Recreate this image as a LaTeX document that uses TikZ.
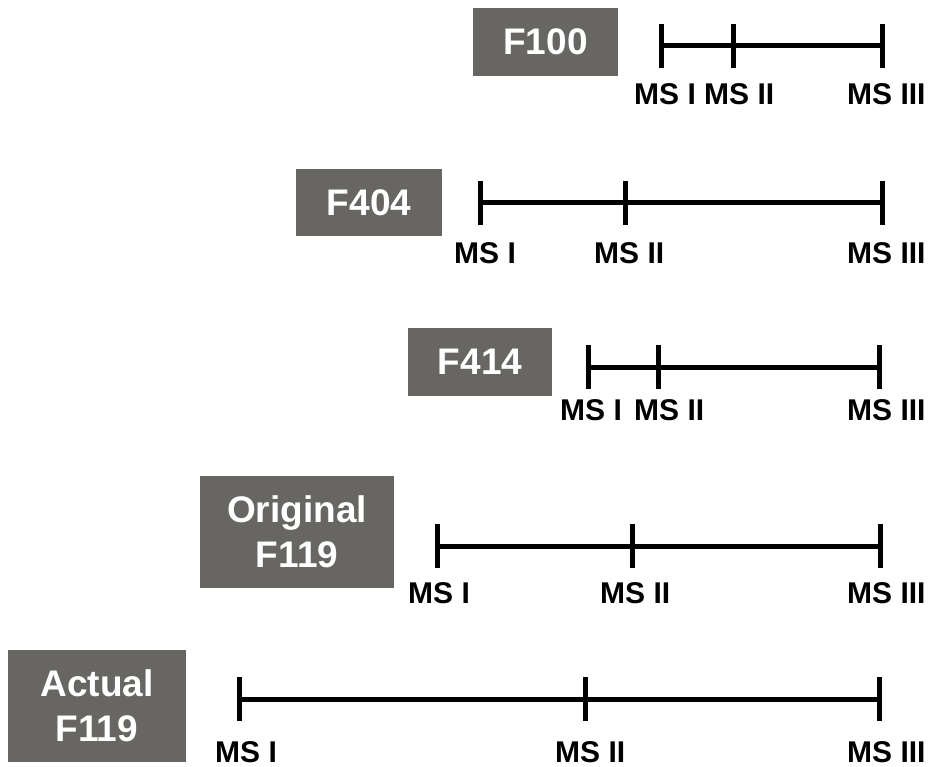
\documentclass[tikz,border=0pt]{standalone}
\usepackage{fontspec}
\setmainfont{Liberation Sans}
\definecolor{boxgray}{RGB}{104,102,98}
\begin{document}
\begin{tikzpicture}[x=1pt,y=-1pt,
  box/.style={fill=boxgray,text=white,inner sep=0pt,align=center,
    font=\bfseries\fontsize{37}{45}\selectfont},
  ms/.style={anchor=base west,inner sep=0pt,font=\bfseries\fontsize{30}{36}\selectfont},
  bar/.style={line width=5pt}]
\useasboundingbox (0,0) rectangle (928,767);
% F100
\node[box,minimum width=145pt,minimum height=68pt] (f100) at (545.5,42) {F100};
\coordinate (a1) at (661,46); \coordinate (a2) at (733,46); \coordinate (a3) at (882,46);
\draw[bar] (a1) -- (a3);
\foreach \c in {a1,a2,a3} \draw[bar] ([yshift=22pt]\c) -- ([yshift=-22pt]\c);
\node[ms] (la1) at (634,105) {MS I};
\node[ms] (la2) at (704,105) {MS II};
\node[ms] (la3) at (847,105) {MS III};
% F404
\node[box,minimum width=146pt,minimum height=67pt] (f404) at (369,202.5) {F404};
\coordinate (b1) at (480,203); \coordinate (b2) at (625,203); \coordinate (b3) at (882,203);
\draw[bar] (b1) -- (b3);
\foreach \c in {b1,b2,b3} \draw[bar] ([yshift=22pt]\c) -- ([yshift=-22pt]\c);
\node[ms] (lb1) at (454,263) {MS I};
\node[ms] (lb2) at (594,263) {MS II};
\node[ms] (lb3) at (847,263) {MS III};
% F414
\node[box,minimum width=144pt,minimum height=68pt] (f414) at (480,362) {F414};
\coordinate (c1) at (588,367); \coordinate (c2) at (658,367); \coordinate (c3) at (879,367);
\draw[bar] (c1) -- (c3);
\foreach \c in {c1,c2,c3} \draw[bar] ([yshift=22pt]\c) -- ([yshift=-22pt]\c);
\node[ms] (lc1) at (560,420) {MS I};
\node[ms] (lc2) at (634,420) {MS II};
\node[ms] (lc3) at (847,420) {MS III};
% Original F119
\node[box,minimum width=194pt,minimum height=112pt] (orig) at (297,532) {Original\\F119};
\coordinate (d1) at (437,546); \coordinate (d2) at (632,546); \coordinate (d3) at (880,546);
\draw[bar] (d1) -- (d3);
\foreach \c in {d1,d2,d3} \draw[bar] ([yshift=22pt]\c) -- ([yshift=-22pt]\c);
\node[ms] (ld1) at (408,603) {MS I};
\node[ms] (ld2) at (600,603) {MS II};
\node[ms] (ld3) at (847,603) {MS III};
% Actual F119
\node[box,minimum width=178pt,minimum height=112pt] (act) at (97,706) {Actual\\F119};
\coordinate (e1) at (239,699); \coordinate (e2) at (585,699); \coordinate (e3) at (879,699);
\draw[bar] (e1) -- (e3);
\foreach \c in {e1,e2,e3} \draw[bar] ([yshift=22pt]\c) -- ([yshift=-22pt]\c);
\node[ms] (le1) at (215,762) {MS I};
\node[ms] (le2) at (555,762) {MS II};
\node[ms] (le3) at (847,762) {MS III};
\end{tikzpicture}
\end{document}
